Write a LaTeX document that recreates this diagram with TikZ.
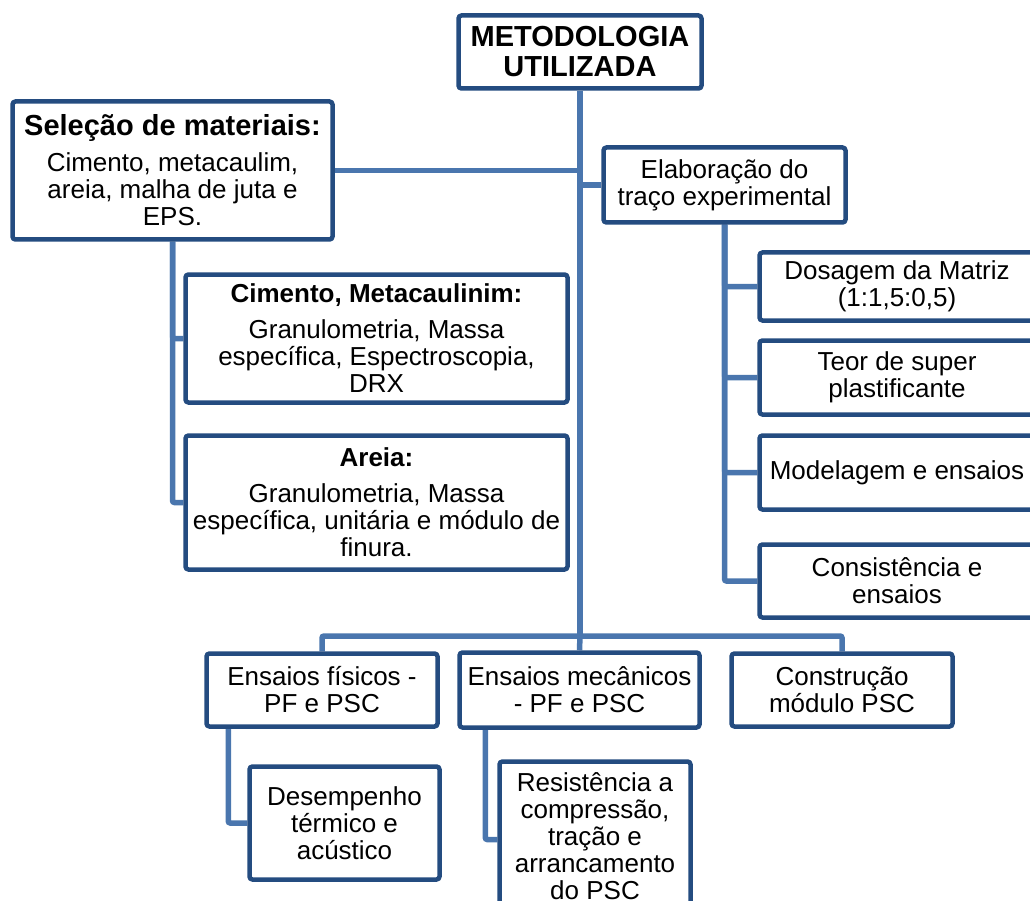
\documentclass[tikz,border=0pt]{standalone}
\usepackage{fontspec}
\setmainfont{Liberation Sans}
\usetikzlibrary{backgrounds}
\definecolor{boxblue}{HTML}{244C80}
\definecolor{linkblue}{HTML}{4A76AE}

\begin{document}
\begin{tikzpicture}[x=1pt,y=-1pt,
		box/.style={draw=boxblue, line width=4.5pt, fill=white, rounded corners=3pt,
			align=center, inner sep=0pt, font=\fontsize{26}{27}\selectfont},
		link/.style={draw=linkblue, line width=5.5pt, rounded corners=2pt}]
	\useasboundingbox (0,0) rectangle (1030,901);
	\clip (0,0) rectangle (1030,901);
	
	% boxes
	\node[box, minimum width=243pt, minimum height=73pt, font=\fontsize{29}{30}\selectfont\bfseries] (top) at (580,52) {METODOLOGIA\\UTILIZADA};
	\node[box, minimum width=320pt, minimum height=138pt] (sel) at (172.5,170.5) {{\fontsize{29}{30}\selectfont\textbf{Seleção de materiais:}}\\[9pt]Cimento, metacaulim,\\areia, malha de juta e\\EPS.};
	\node[box, minimum width=242pt, minimum height=75pt] (elab) at (724.5,185) {Elaboração do\\traço experimental};
	
	\node[box, minimum width=382pt, minimum height=128pt] (cim) at (376.5,338.5) {\textbf{Cimento, Metacaulinim:}\\[9pt]Granulometria, Massa\\específica, Espectroscopia,\\DRX};
	\node[box, minimum width=382pt, minimum height=134pt] (are) at (376.5,502.5) {\textbf{Areia:}\\[9pt]Granulometria, Massa\\específica, unitária e módulo de\\finura.};
	
	\node[box, minimum width=275pt, minimum height=68pt] (dos) at (897,286.5) {Dosagem da Matriz\\(1:1,5:0,5)};
	\node[box, minimum width=275pt, minimum height=74pt] (teor) at (897,377.5) {Teor de super\\plastificante};
	\node[box, minimum width=275pt, minimum height=74pt] (mod) at (897,472.5) {Modelagem e ensaios};
	\node[box, minimum width=275pt, minimum height=73pt] (cons) at (897,581) {Consistência e\\ensaios};
	
	\node[box, minimum width=231pt, minimum height=73pt] (fis) at (322,690) {Ensaios físicos -\\PF e PSC};
	\node[box, minimum width=240pt, minimum height=75pt] (mec) at (579.5,690) {Ensaios mecânicos\\- PF e PSC};
	\node[box, minimum width=221pt, minimum height=73pt] (con) at (842,690) {Construção\\módulo PSC};
	
	\node[box, minimum width=190pt, minimum height=113pt] (des) at (344.5,823) {Desempenho\\térmico e\\acústico};
	\node[box, minimum width=191pt, minimum height=150pt] (res) at (595,836.5) {Resistência a\\compressão,\\tração e\\arrancamento\\do PSC};
	
	% connectors
	\coordinate (bus) at (580,636);
	\begin{pgfonlayer}{background}
		\draw[link] (top.south) -- (bus);
		\draw[link] (sel.east) -- (sel.east -| bus);
		\draw[link] (elab.west -| bus) -- (elab.west);
		
		\draw[link] (sel.south) |- (cim.west);
		\draw[link] (sel.south) |- (are.west);
		
		\draw[link] (elab.south) |- (dos.west);
		\draw[link] (elab.south) |- (teor.west);
		\draw[link] (elab.south) |- (mod.west);
		\draw[link] (elab.south) |- (cons.west);
		
		\draw[link] (fis.north) |- (bus) -| (con.north);
		\draw[link] (bus) -- (mec.north);
		
		\draw[link] ([xshift=24pt]fis.south west) |- (des.west);
		\draw[link] ([xshift=28pt]mec.south west) |- ([yshift=-3pt]res.west);
	\end{pgfonlayer}
\end{tikzpicture}
\end{document}
